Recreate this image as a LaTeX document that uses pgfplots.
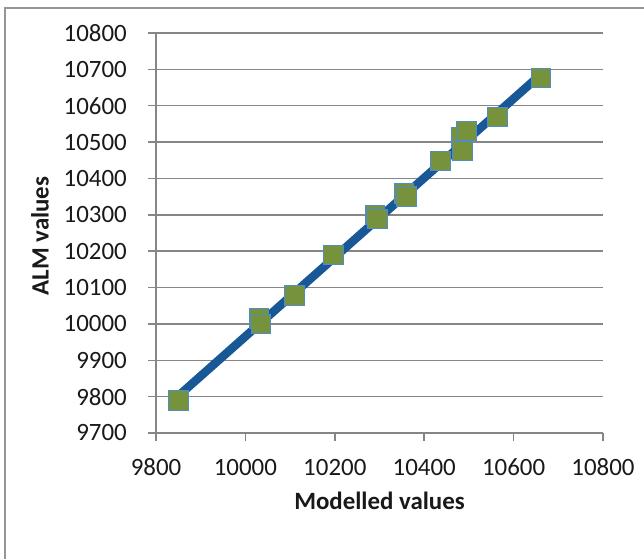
\documentclass[border=0pt]{standalone}
\usepackage{pgfplots}
\pgfplotsset{compat=1.18}
\usepackage{fontspec}
\setmainfont{Carlito}
\definecolor{gridgray}{RGB}{134,134,134}
\definecolor{framegray}{RGB}{150,150,150}
\definecolor{linblue}{RGB}{24,88,150}
\definecolor{mkgreen}{RGB}{118,146,60}
\definecolor{mkblue}{RGB}{79,140,200}
\begin{document}
\begin{tikzpicture}[x=1bp,y=1bp]
\useasboundingbox (0,0) rectangle (644,559);
\draw[framegray, line width=1.3bp] (5,0) -- (5,551) -- (644,551);
\begin{axis}[
  at={(156bp,126bp)}, anchor=south west,
  scale only axis, width=447bp, height=400bp,
  xmin=9800, xmax=10800, ymin=9700, ymax=10800,
  xtick={9800,10000,...,10800},
  ytick={9700,9800,...,10800},
  axis lines*=left,
  axis line style={gridgray, line width=1.5bp},
  ymajorgrids, grid style={gridgray, line width=1.5bp},
  tick align=outside, major tick length=8bp,
  tick style={gridgray, line width=1.5bp},
  xtick pos=bottom, ytick pos=left,
  scaled ticks=false,
  /pgf/number format/1000 sep={},
  /pgf/number format/assume math mode=true,
  tick label style={font=\fontsize{25}{30}\selectfont, inner sep=0pt, text=black!90},
  x tick label style={anchor=base, yshift=-35bp},
  y tick label style={anchor=east, xshift=-21bp},
  clip=false,
]
\addplot[only marks, mark=square*, mark size=9.8bp,
  mark options={fill=mkgreen, draw=mkblue, line width=1bp}] coordinates {
(9850,9790)
(10030,10015)
(10035,10000)
(10110,10078)
(10197,10190)
(10290,10300)
(10295,10288)
(10355,10358)
(10360,10350)
(10436,10448)
(10483,10512)
(10485,10475)
(10495,10530)
(10564,10569)
(10661,10676)
};
\addplot[linblue, line width=8.5bp, line cap=round] coordinates {
(9850,9802)
(10660,10685)
};
\end{axis}
\node[anchor=base, font=\fontsize{25}{30}\selectfont\bfseries, inner sep=0pt, text=black!90] at (379.5,49.4) {Modelled values};
\node[rotate=90, anchor=center, font=\fontsize{25}{30}\selectfont\bfseries, inner sep=0pt, text=black!90] at (40,323) {ALM values};
\end{tikzpicture}
\end{document}
